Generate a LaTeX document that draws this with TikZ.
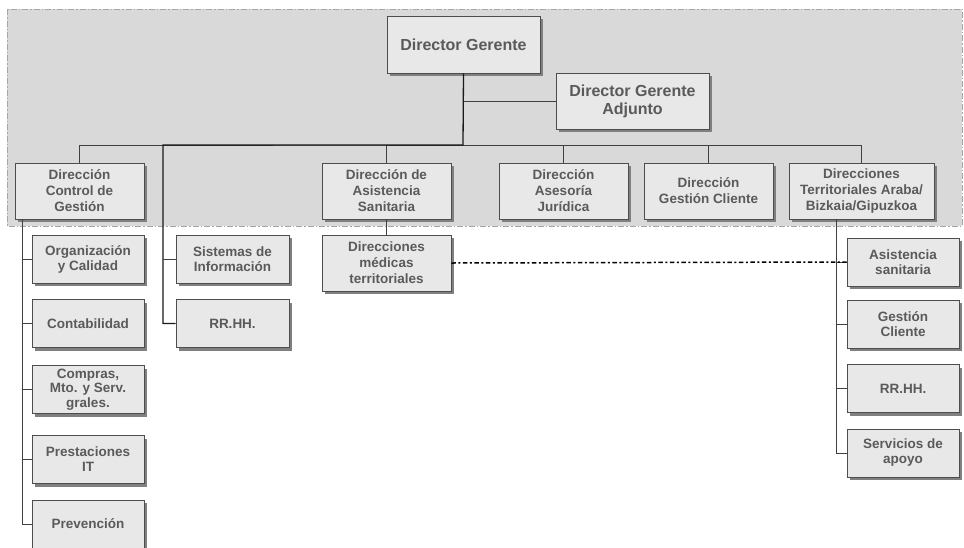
\documentclass[tikz,border=0pt]{standalone}
\usepackage{fontspec}
\setmainfont{Liberation Sans}
\usetikzlibrary{shadows}
\definecolor{bgray}{HTML}{D9D9D9}
\definecolor{bline}{HTML}{A6A6A6}
\definecolor{boxfill}{HTML}{E8E8E8}
\definecolor{boxdraw}{HTML}{4D4D4D}
\definecolor{shgray}{HTML}{808080}
\definecolor{txtgray}{HTML}{5A5A5A}
\definecolor{conngray}{HTML}{404040}
\tikzset{
  orgbox/.style={draw=boxdraw, fill=boxfill, line width=0.7pt, align=center,
    text=txtgray, inner sep=1pt,
    font=\bfseries\fontsize{13.5}{15}\selectfont,
    drop shadow={shadow xshift=3pt, shadow yshift=-3pt, fill=shgray, opacity=1}},
  bigbox/.style={orgbox, font=\bfseries\fontsize{16}{18}\selectfont},
  lvbox/.style={orgbox, font=\bfseries\fontsize{13.5}{16}\selectfont},
  conn/.style={draw=conngray, line width=0.8pt},
  trunk/.style={draw=black!90, line width=1.3pt},
  dotted link/.style={draw=black, line width=1.5pt, dash pattern=on 4.5pt off 2.5pt on 2pt off 2.5pt}
}
\begin{document}
\begin{tikzpicture}[x=1pt, y=-1pt]
\useasboundingbox (0,0) rectangle (964,547);
% gray region
\fill[bgray] (7,9) rectangle (962,226);
\draw[bline, line width=1pt, dash pattern=on 6pt off 2pt on 1.5pt off 2pt] (7,9) rectangle (962,226);

% coordinates for the buses
\coordinate (bus) at (463,145);
\coordinate (sv) at (163,145);
\coordinate (lc) at (22,219);
\coordinate (rc) at (836,219);

% top
\node[bigbox, minimum width=153pt, minimum height=57pt] (dg) at (463.5,44.5) {Director Gerente};
\node[bigbox, minimum width=153pt, minimum height=56pt] (dga) at (632.5,101) {Director Gerente\\Adjunto};

% level 2
\node[lvbox, minimum width=129pt, minimum height=56pt] (ctrl) at (79.5,191) {Dirección\\Control de\\Gestión};
\node[lvbox, minimum width=129pt, minimum height=56pt] (asist) at (386.5,191) {Dirección de\\Asistencia\\Sanitaria};
\node[lvbox, minimum width=129pt, minimum height=56pt] (ases) at (563.5,191) {Dirección\\Asesoría\\Jurídica};
\node[lvbox, minimum width=129pt, minimum height=56pt] (gcli) at (708.5,191) {Dirección\\Gestión Cliente};
\node[lvbox, minimum width=145pt, minimum height=56pt] (terr) at (861.5,191) {Direcciones\\Territoriales Araba/\\Bizkaia/Gipuzkoa};

% left column
\node[orgbox, minimum width=112pt, minimum height=48pt] (org) at (88,259) {Organización\\y Calidad};
\node[orgbox, minimum width=112pt, minimum height=48pt] (cont) at (88,323.5) {Contabilidad};
\node[orgbox, minimum width=112pt, minimum height=48pt, font=\bfseries\fontsize{13.5}{14.5}\selectfont] (comp) at (88,389.5) {Compras,\\Mto. y Serv.\\grales.};
\node[orgbox, minimum width=112pt, minimum height=48pt] (prest) at (88,459.5) {Prestaciones\\IT};
\node[orgbox, minimum width=112pt, minimum height=48pt] (prev) at (88,524) {Prevención};

% sistemas column
\node[orgbox, minimum width=113pt, minimum height=48pt] (sis) at (232.5,259) {Sistemas de\\Información};
\node[orgbox, minimum width=113pt, minimum height=48pt] (rrhh) at (232.5,323.5) {RR.HH.};

% medicas
\node[lvbox, minimum width=129pt, minimum height=56pt] (med) at (386.5,263) {Direcciones\\médicas\\territoriales};

% right column
\node[orgbox, minimum width=112pt, minimum height=48pt] (asis) at (903,262) {Asistencia\\sanitaria};
\node[orgbox, minimum width=112pt, minimum height=48pt] (gcl) at (903,324) {Gestión\\Cliente};
\node[orgbox, minimum width=112pt, minimum height=48pt] (rr2) at (903,388.5) {RR.HH.};
\node[orgbox, minimum width=112pt, minimum height=48pt] (serv) at (903,453) {Servicios de\\apoyo};

% connectors
\draw[conn] (bus |- dga.west) -- (dga.west);
\draw[conn] (ctrl.north) |- (bus) -| (terr.north);
\draw[conn] (bus) -| (asist.north);
\draw[conn] (bus) -| (ases.north);
\draw[conn] (bus) -| (gcli.north);
\draw[trunk] (dg.south) -- (bus) -- (sv) |- (rrhh.west);
\draw[conn] (sv |- sis.west) -- (sis.west);
\draw[conn] (asist.south) -- (med.north);
\draw[conn] (lc) |- (prev.west);
\draw[conn] (lc |- org.west) -- (org.west);
\draw[conn] (lc |- cont.west) -- (cont.west);
\draw[conn] (lc |- comp.west) -- (comp.west);
\draw[conn] (lc |- prest.west) -- (prest.west);
\draw[conn] (rc) |- (serv.west);
\draw[conn] (rc |- asis.west) -- (asis.west);
\draw[conn] (rc |- gcl.west) -- (gcl.west);
\draw[conn] (rc |- rr2.west) -- (rr2.west);
\draw[dotted link] (med.east) -- (asis.west);
\end{tikzpicture}
\end{document}
